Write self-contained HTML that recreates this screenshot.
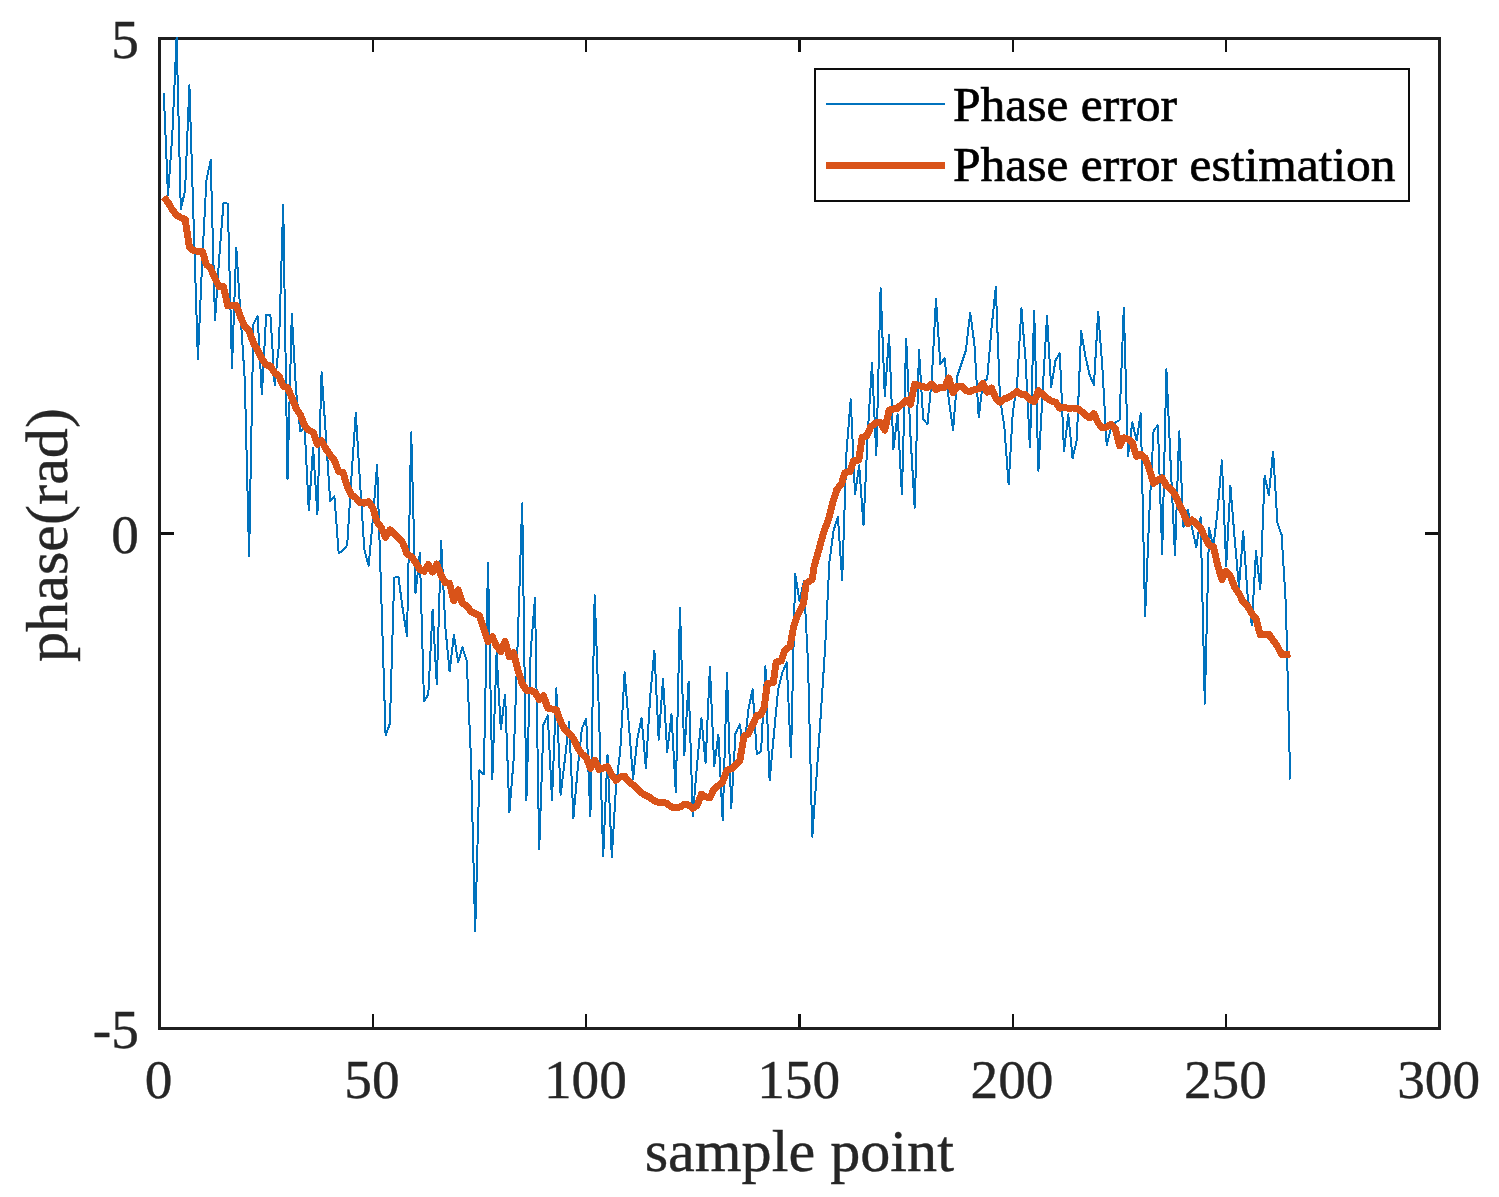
<!DOCTYPE html>
<html><head><meta charset="utf-8"><title>Phase error</title>
<style>
html,body{margin:0;padding:0;background:#fff;}
body{width:1499px;height:1197px;overflow:hidden;font-family:"Liberation Serif",serif;}
svg{display:block;}
text{font-family:"Liberation Serif",serif;fill:#262626;stroke:#262626;stroke-width:0.4px;}
.tk{font-size:55.3px;}
.lb{font-size:60.2px;}
.lg{font-size:49.5px;fill:#000;stroke:#000;stroke-width:0.7px;}
</style></head><body>
<svg width="1499" height="1197" viewBox="0 0 1499 1197">
<rect x="0" y="0" width="1499" height="1197" fill="#fff"/>

<defs><clipPath id="cp"><rect x="158" y="37" width="1283" height="993"/></clipPath></defs>
<g shape-rendering="crispEdges" fill="#1f1f1f">
<rect x="158" y="37" width="1283" height="3"/>
<rect x="158" y="1027" width="1283" height="3"/>
<rect x="158" y="37" width="3" height="993"/>
<rect x="1438" y="37" width="3" height="993"/>
</g>
<g shape-rendering="crispEdges" fill="#111111">
<rect x="372" y="1014" width="2" height="13"/>
<rect x="372" y="40" width="2" height="12"/>
<rect x="585" y="1014" width="2" height="13"/>
<rect x="585" y="40" width="2" height="12"/>
<rect x="798" y="1014" width="3" height="13"/>
<rect x="798" y="40" width="3" height="12"/>
<rect x="1012" y="1014" width="2" height="13"/>
<rect x="1012" y="40" width="2" height="12"/>
<rect x="1225" y="1014" width="2" height="13"/>
<rect x="1225" y="40" width="2" height="12"/>
<rect x="161" y="532" width="13" height="3"/>
<rect x="1425" y="532" width="13" height="3"/>
</g>
<g clip-path="url(#cp)" fill="none" shape-rendering="crispEdges">
<polyline points="163.8,93.2 168.0,195.4 172.3,135.0 176.6,37.0 180.8,209.5 185.1,190.4 189.4,85.1 193.6,222.0 197.9,359.3 202.2,262.0 206.4,180.4 210.7,160.0 215.0,320.2 219.2,258.0 223.5,202.9 227.8,203.7 232.0,367.9 236.3,247.6 240.6,316.0 244.8,380.0 249.1,556.0 253.4,324.0 257.6,316.0 261.9,394.4 266.2,314.6 270.4,314.6 274.7,385.4 279.0,344.0 283.2,204.5 287.5,479.4 291.8,314.2 296.0,390.0 300.3,431.3 304.6,427.0 308.8,510.3 313.1,448.0 317.4,514.3 321.6,372.3 325.9,436.0 330.2,501.3 334.4,496.3 338.7,553.4 343.0,550.4 347.2,545.0 351.5,476.2 355.8,413.2 360.0,482.2 364.3,549.4 368.6,565.5 372.8,520.3 377.1,464.4 381.4,600.0 385.6,735.5 389.9,723.5 394.2,577.8 398.4,576.6 402.7,609.0 407.0,636.4 411.2,432.3 415.5,593.3 419.8,553.2 424.0,701.4 428.3,694.4 432.6,609.7 436.8,684.4 441.1,540.4 445.4,628.0 449.6,671.3 453.9,635.0 458.2,662.3 462.4,647.3 466.7,660.3 471.0,759.0 475.2,931.5 479.5,770.3 483.8,774.5 488.0,563.3 492.3,779.1 496.6,653.0 500.8,729.5 505.1,694.4 509.4,812.2 513.6,760.0 517.9,636.2 522.2,503.3 526.4,800.2 530.7,651.0 535.0,598.2 539.2,849.3 543.5,724.5 547.8,715.3 552.0,800.2 556.3,688.4 560.6,795.1 564.8,760.0 569.1,721.5 573.4,818.2 577.6,770.0 581.9,728.5 586.2,718.5 590.4,816.2 594.7,595.3 599.0,715.0 603.2,856.3 607.5,754.8 611.8,857.3 616.0,787.0 620.3,750.0 624.6,672.4 628.8,724.0 633.1,778.8 637.4,738.3 641.6,718.0 645.9,768.0 650.2,696.0 654.4,650.7 658.7,739.7 663.0,678.7 667.2,752.0 671.5,714.5 675.8,792.0 680.0,607.6 684.3,755.5 688.6,681.5 692.8,816.1 697.1,764.4 701.4,718.4 705.6,763.0 709.9,667.2 714.2,766.0 718.4,734.6 722.7,820.5 727.0,673.2 731.2,808.5 735.5,733.5 739.8,724.4 744.0,751.3 748.3,710.2 752.6,689.3 756.8,754.3 761.1,751.4 765.4,666.2 769.6,780.4 773.9,734.3 778.2,689.2 782.4,672.5 786.7,662.4 791.0,757.5 795.2,573.6 799.5,601.3 803.8,581.3 808.0,662.0 812.3,836.6 816.6,775.4 820.8,714.3 825.1,648.0 829.4,562.0 833.6,530.3 837.9,516.9 842.2,580.3 846.4,453.3 850.7,399.4 855.0,494.0 859.2,465.4 863.5,525.3 867.8,432.4 872.0,363.3 876.3,455.3 880.6,288.1 884.8,396.4 889.1,334.6 893.4,449.3 897.6,414.5 901.9,494.4 906.2,338.6 910.4,434.5 914.7,507.7 919.0,350.2 923.2,419.2 927.5,424.2 931.8,378.3 936.0,299.1 940.3,364.3 944.6,358.3 948.8,400.0 953.1,430.3 957.4,376.0 961.6,363.3 965.9,350.2 970.2,312.5 974.4,344.2 978.7,417.2 983.0,381.5 987.2,379.0 991.5,328.2 995.8,287.1 1000.0,398.4 1004.3,426.4 1008.6,484.4 1012.8,412.4 1017.1,384.3 1021.4,308.1 1025.6,360.3 1029.9,447.3 1034.2,311.1 1038.4,471.0 1042.7,390.3 1047.0,316.1 1051.2,387.3 1055.5,360.3 1059.8,353.2 1064.0,451.4 1068.3,414.3 1072.6,458.4 1076.8,440.0 1081.1,331.1 1085.4,356.2 1089.6,374.8 1093.9,385.2 1098.2,312.0 1102.4,368.2 1106.7,445.4 1111.0,428.3 1115.2,422.3 1119.5,420.3 1123.8,308.0 1128.0,456.4 1132.3,422.3 1136.6,440.4 1140.8,413.3 1145.1,616.4 1149.4,512.0 1153.6,430.3 1157.9,425.3 1162.2,554.2 1166.4,369.2 1170.7,464.4 1175.0,555.2 1179.2,431.3 1183.5,526.6 1187.8,509.5 1192.0,528.0 1196.3,547.2 1200.6,517.3 1204.8,703.6 1209.1,528.3 1213.4,547.2 1217.6,510.1 1221.9,460.4 1226.2,566.0 1230.4,485.8 1234.7,539.2 1239.0,587.3 1243.2,531.3 1247.5,594.3 1251.8,625.4 1256.0,551.2 1260.3,589.3 1264.6,475.5 1268.8,495.2 1273.1,451.4 1277.4,522.8 1281.6,534.8 1285.9,605.0 1290.2,779.5" stroke="#0072BD" stroke-width="2" stroke-linejoin="round"/>
<polyline points="163.8,197.0 168.0,202.4 172.3,209.7 176.6,215.1 180.8,217.7 185.1,219.1 189.4,247.1 193.6,250.5 197.9,251.4 202.2,251.2 206.4,264.5 210.7,268.5 215.0,278.5 219.2,286.6 223.5,286.6 227.8,305.9 232.0,305.9 236.3,305.3 240.6,317.3 244.8,326.7 249.1,330.7 253.4,343.0 257.6,350.1 261.9,358.8 266.2,364.8 270.4,366.1 274.7,372.8 279.0,376.1 283.2,386.2 287.5,387.5 291.8,397.5 296.0,408.2 300.3,414.9 304.6,425.6 308.8,430.2 313.1,432.3 317.4,444.3 321.6,440.9 325.9,449.0 330.2,455.0 334.4,460.3 338.7,471.7 343.0,472.4 347.2,486.4 351.5,495.1 355.8,497.8 360.0,502.5 364.3,503.1 368.6,501.8 372.8,507.8 377.1,521.8 381.4,527.9 385.6,537.2 389.9,529.9 394.2,533.2 398.4,537.9 402.7,542.6 407.0,553.9 411.2,556.6 415.5,562.0 419.8,569.3 424.0,571.3 428.3,564.6 432.6,572.0 436.8,564.0 441.1,575.3 445.4,582.7 449.6,583.3 453.9,600.7 458.2,590.0 462.4,603.4 466.7,605.7 471.0,611.4 475.2,613.5 479.5,615.8 483.8,628.8 488.0,641.5 492.3,636.8 496.6,646.1 500.8,651.5 505.1,641.5 509.4,656.8 513.6,652.8 517.9,670.2 522.2,683.6 526.4,690.3 530.7,690.3 535.0,692.3 539.2,699.6 543.5,695.6 547.8,708.3 552.0,709.0 556.3,709.7 560.6,721.7 564.8,729.7 569.1,733.7 573.4,738.4 577.6,747.8 581.9,754.0 586.2,757.5 590.4,768.2 594.7,760.2 599.0,769.5 603.2,768.2 607.5,766.8 611.8,774.9 616.0,780.2 620.3,776.9 624.6,776.2 628.8,781.6 633.1,784.9 637.4,788.9 641.6,792.9 645.9,795.6 650.2,797.6 654.4,800.9 658.7,802.3 663.0,802.3 667.2,803.6 671.5,807.0 675.8,807.6 680.0,807.0 684.3,804.3 688.6,804.9 692.8,808.3 697.1,805.6 701.4,794.3 705.6,796.9 709.9,797.6 714.2,788.9 718.4,785.6 722.7,781.6 727.0,770.2 731.2,768.9 735.5,765.5 739.8,760.8 744.0,736.1 748.3,734.1 752.6,725.0 756.8,715.5 760.7,715.0 764.1,707.6 767.4,683.6 773.4,682.3 776.1,662.2 781.4,660.9 784.8,650.2 790.1,646.2 793.5,627.5 797.5,615.4 803.5,603.4 806.2,583.4 812.2,579.4 814.0,567.0 820.0,545.6 824.1,530.9 828.7,518.9 832.7,502.9 836.8,489.5 841.4,484.1 844.8,472.8 850.1,471.4 853.5,460.8 858.8,460.1 862.1,437.4 866.8,436.0 870.8,426.7 876.2,422.7 880.3,422.5 884.8,430.0 889.1,410.3 893.4,408.9 897.6,408.2 901.9,404.2 906.2,400.2 910.4,404.2 914.7,384.1 919.0,385.5 923.2,386.8 927.5,387.5 931.8,384.1 936.0,389.5 940.3,387.5 944.6,387.5 948.8,378.1 953.1,392.8 957.4,386.1 961.6,386.1 965.9,390.8 970.2,391.5 974.4,389.5 978.7,388.8 983.0,383.5 987.2,392.2 991.5,388.2 995.8,398.2 1000.0,402.2 1004.3,398.9 1008.6,397.5 1012.8,394.8 1017.1,391.5 1021.4,394.2 1025.6,394.8 1029.9,399.5 1034.2,401.5 1038.4,390.8 1042.7,394.2 1047.0,398.2 1051.2,400.9 1055.5,402.2 1059.8,408.2 1064.0,407.5 1068.3,408.2 1072.6,408.0 1076.8,408.2 1081.1,411.1 1085.4,415.1 1089.6,417.8 1093.9,413.7 1098.2,423.1 1102.4,427.8 1106.7,427.1 1111.0,424.4 1115.2,428.4 1119.5,445.8 1123.8,437.8 1128.0,439.1 1132.3,442.5 1136.6,456.5 1140.8,454.5 1145.1,457.9 1149.4,469.2 1153.6,483.3 1157.9,479.9 1162.2,477.9 1166.4,485.9 1170.7,488.6 1175.0,494.6 1179.2,504.0 1183.5,513.3 1187.8,523.7 1192.0,520.0 1196.3,523.4 1200.6,528.4 1204.8,537.0 1209.1,545.0 1213.4,546.8 1217.6,564.8 1221.9,579.5 1226.2,571.5 1230.4,576.2 1234.7,587.5 1239.0,593.5 1243.2,602.2 1247.5,606.2 1251.8,613.6 1256.0,618.9 1260.3,635.0 1264.6,634.3 1268.8,634.3 1273.1,640.3 1277.4,646.3 1281.6,654.3 1285.9,655.0 1290.2,653.7" stroke="#D95319" stroke-width="7" stroke-linejoin="round"/>
</g>
<text class="tk" x="158.7" y="1097.8" text-anchor="middle">0</text>
<text class="tk" x="372.0" y="1097.8" text-anchor="middle">50</text>
<text class="tk" x="585.4" y="1097.8" text-anchor="middle">100</text>
<text class="tk" x="798.7" y="1097.8" text-anchor="middle">150</text>
<text class="tk" x="1012.0" y="1097.8" text-anchor="middle">200</text>
<text class="tk" x="1225.4" y="1097.8" text-anchor="middle">250</text>
<text class="tk" x="1438.7" y="1097.8" text-anchor="middle">300</text>
<text class="tk" x="138.8" y="57.5" text-anchor="end">5</text>
<text class="tk" x="138.8" y="552.5" text-anchor="end">0</text>
<text class="tk" x="138.8" y="1047.5" text-anchor="end">-5</text>
<text class="lb" x="799.3" y="1170.5" text-anchor="middle">sample point</text>
<text class="lb" transform="translate(67.2,535) rotate(-90)" text-anchor="middle">phase(rad)</text>
<g shape-rendering="crispEdges">
<rect x="815" y="69" width="594" height="132" fill="#fff" stroke="#0d0d0d" stroke-width="2"/>
<rect x="826" y="103" width="119" height="2" fill="#0072BD"/>
<rect x="826" y="162" width="119" height="7" fill="#D95319"/>
</g>
<text class="lg" x="953" y="120.9">Phase error</text>
<text class="lg" x="953" y="181.3">Phase error estimation</text>
</svg></body></html>
